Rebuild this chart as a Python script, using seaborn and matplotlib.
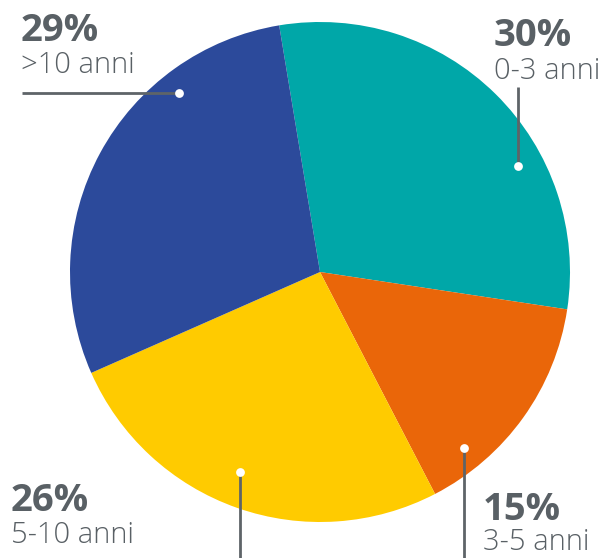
import matplotlib
matplotlib.use("Agg")
import matplotlib.pyplot as plt
import seaborn as sns

categories = ["0-3 anni", "3-5 anni", "5-10 anni", ">10 anni"]
values = [30, 15, 26, 29]
pct_labels = ["30%", "15%", "26%", "29%"]
colors = ["#00A7A8", "#EA6609", "#FFCB00", "#2C4A9B"]

sns.set_theme(style="white")
plt.rcParams['font.family'] = ['Open Sans', 'DejaVu Sans']

W, H = 608, 558
fig = plt.figure(figsize=(W / 100, H / 100), dpi=100)
ax = fig.add_axes([0, 0, 1, 1])

def Y(y):
    return H - y

ax.pie(values, colors=colors, startangle=99.4, counterclock=False,
       center=(320, Y(272)), radius=250, frame=True,
       wedgeprops=dict(linewidth=0))
ax.set_xlim(0, W)
ax.set_ylim(0, H)
ax.set_aspect('equal')
ax.axis('off')

txt_col = "#596065"
# label layout: (x, pct_baseline, cat_baseline)
layout = {
    "0-3 anni": (494, 46, 79),
    "3-5 anni": (483, 520, 550),
    "5-10 anni": (11, 511, 543),
    ">10 anni": (21, 41, 73),
}
for cat, pct in zip(categories, pct_labels):
    x, yb1, yb2 = layout[cat]
    ax.text(x, Y(yb1), pct, fontsize=27.5, fontweight='bold', color=txt_col,
            ha='left', va='baseline')
    ax.text(x, Y(yb2), cat, fontsize=21, fontweight='light', color=txt_col,
            ha='left', va='baseline')

# leader lines and dots
leaders = [
    ((518, 518), (87, 166), (518, 166)),
    ((464, 464), (448, 560), (464, 448)),
    ((240, 240), (472, 560), (240, 472)),
    ((22, 179), (93, 93), (179, 93)),
]
for xs, ys, dot in leaders:
    ax.plot(xs, [Y(v) for v in ys], color="#5E6468", lw=2, solid_capstyle='butt')
    ax.scatter([dot[0]], [Y(dot[1])], s=40, color='white', zorder=5, linewidths=0)

fig.savefig("out.png", dpi=100)
